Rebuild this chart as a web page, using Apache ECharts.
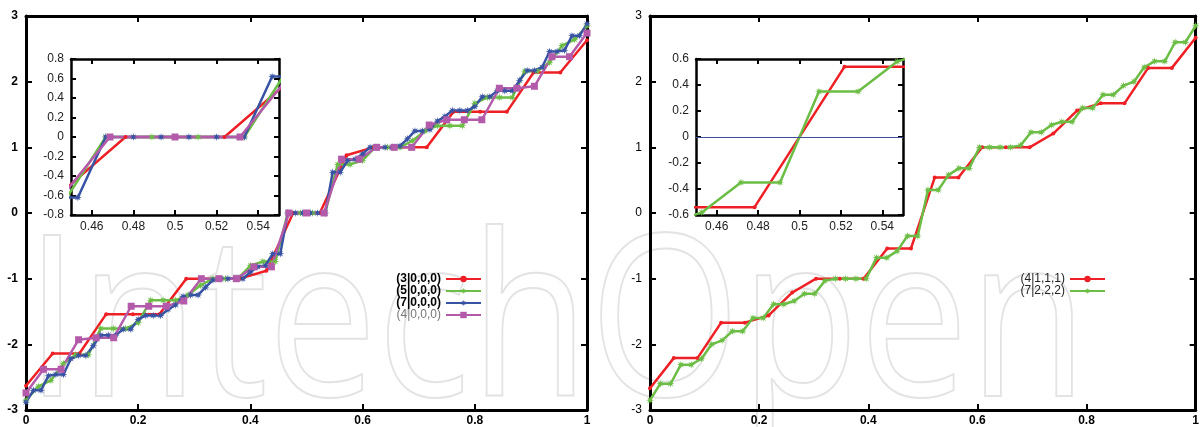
<!DOCTYPE html>
<html>
<head>
<meta charset="utf-8">
<script src="https://cdn.jsdelivr.net/npm/echarts@6/dist/echarts.min.js"></script>
<style>
html, body { margin: 0; padding: 0; background: #fff; }
#main { width: 1202px; height: 427px; }
</style>
</head>
<body>
<div id="main"></div>
<script>
// ---- data ----
// left panel
var x3 = [0, 0.0476, 0.0952, 0.1429, 0.1905, 0.2381, 0.2857, 0.3333, 0.381, 0.4286, 0.4762,
    0.5238, 0.5714, 0.619, 0.6667, 0.7143, 0.7619, 0.8095, 0.8571, 0.9048, 0.9524, 1];
var y3 = [-2.63, -2.14, -2.14, -1.54, -1.54, -1.54, -1.0, -1.0, -1.0, -0.88, 0,
    0, 0.88, 1.0, 1.0, 1.0, 1.54, 1.54, 1.54, 2.14, 2.14, 2.63];

var x5 = [0, 0.0222, 0.0444, 0.0667, 0.0889, 0.1111, 0.1333, 0.1556, 0.1778, 0.2, 0.2222, 0.2444,
    0.2667, 0.2889, 0.3111, 0.3333, 0.3556, 0.3778, 0.4, 0.4222, 0.4444, 0.4667, 0.4889, 0.5111,
    0.5333, 0.5556, 0.5778, 0.6, 0.6222, 0.6444, 0.6667, 0.6889, 0.7111, 0.7333, 0.7556, 0.7778,
    0.8, 0.8222, 0.8444, 0.8667, 0.8889, 0.9111, 0.9333, 0.9556, 0.9778, 1];
var y5 = [-2.85, -2.64, -2.55, -2.29, -2.16, -2.16, -1.76, -1.76, -1.76, -1.67, -1.33, -1.33,
    -1.33, -1.25, -1.10, -1.0, -1.0, -1.0, -0.80, -0.74, -0.74, 0, 0, 0,
    0, 0.74, 0.74, 0.80, 1.0, 1.0, 1.0, 1.10, 1.25, 1.33, 1.33, 1.33,
    1.67, 1.76, 1.76, 1.76, 2.16, 2.16, 2.29, 2.55, 2.64, 2.85];

var x7 = [0, 0.0133, 0.0267, 0.04, 0.0533, 0.0667, 0.08, 0.0933, 0.1067, 0.12, 0.1333, 0.1467,
    0.16, 0.1733, 0.1867, 0.2, 0.2133, 0.2267, 0.24, 0.2533, 0.2667, 0.28, 0.2933, 0.3067,
    0.32, 0.3333, 0.3467, 0.36, 0.3733, 0.3867, 0.4, 0.4133, 0.4267, 0.44, 0.4533, 0.4667,
    0.48, 0.4933, 0.5067, 0.52, 0.5333, 0.5467, 0.56, 0.5733, 0.5867, 0.6, 0.6133, 0.6267,
    0.64, 0.6533, 0.6667, 0.68, 0.6933, 0.7067, 0.72, 0.7333, 0.7467, 0.76, 0.7733, 0.7867,
    0.8, 0.8133, 0.8267, 0.84, 0.8533, 0.8667, 0.88, 0.8933, 0.9067, 0.92, 0.9333, 0.9467,
    0.96, 0.9733, 0.9867, 1];
var y7 = [-2.88, -2.70, -2.70, -2.48, -2.46, -2.46, -2.22, -2.17, -2.17, -2.02, -1.86, -1.86,
    -1.86, -1.77, -1.77, -1.62, -1.56, -1.56, -1.56, -1.47, -1.40, -1.27, -1.25, -1.25,
    -1.13, -1.02, -1.0, -1.0, -1.0, -1.0, -0.90, -0.82, -0.80, -0.62, -0.62, 0,
    0, 0, 0, 0, 0, 0.62, 0.62, 0.80, 0.82, 0.90, 1.0, 1.0,
    1.0, 1.0, 1.02, 1.13, 1.25, 1.25, 1.27, 1.40, 1.47, 1.56, 1.56, 1.56,
    1.62, 1.77, 1.77, 1.86, 1.86, 1.86, 2.02, 2.17, 2.17, 2.22, 2.46, 2.46,
    2.48, 2.70, 2.70, 2.88];

var x4 = [0, 0.03125, 0.0625, 0.09375, 0.125, 0.15625, 0.1875, 0.21875, 0.25, 0.28125, 0.3125,
    0.34375, 0.375, 0.40625, 0.4375, 0.46875, 0.5, 0.53125, 0.5625, 0.59375, 0.625, 0.65625,
    0.6875, 0.71875, 0.75, 0.78125, 0.8125, 0.84375, 0.875, 0.90625, 0.9375, 0.96875, 1];
var y4 = [-2.74, -2.38, -2.38, -1.93, -1.90, -1.90, -1.42, -1.42, -1.42, -1.34, -1.0,
    -1.0, -1.0, -0.82, -0.82, 0, 0, 0, 0.82, 0.82, 1.0, 1.0,
    1.0, 1.34, 1.42, 1.42, 1.42, 1.90, 1.90, 1.93, 2.38, 2.38, 2.74];

// right panel
var xR4 = [0, 0.0435, 0.087, 0.1304, 0.1739, 0.2174, 0.2609, 0.3043, 0.3478, 0.3913, 0.4348, 0.4783,
    0.5217, 0.5652, 0.6087, 0.6522, 0.6957, 0.7391, 0.7826, 0.8261, 0.8696, 0.913, 0.9565, 1];
var yR4 = [-2.67, -2.21, -2.21, -1.67, -1.67, -1.56, -1.21, -1.0, -1.0, -1.0, -0.54, -0.54,
    0.54, 0.54, 1.0, 1.0, 1.0, 1.21, 1.56, 1.67, 1.67, 2.21, 2.21, 2.67];

var xR7 = [0, 0.0189, 0.0377, 0.0566, 0.0755, 0.0943, 0.1132, 0.1321, 0.1509, 0.1698, 0.1887, 0.2075,
    0.2264, 0.2453, 0.2642, 0.283, 0.3019, 0.3208, 0.3396, 0.3585, 0.3774, 0.3962, 0.4151, 0.434,
    0.4528, 0.4717, 0.4906, 0.5094, 0.5283, 0.5472, 0.566, 0.5849, 0.6038, 0.6226, 0.6415, 0.6604,
    0.6792, 0.6981, 0.717, 0.7358, 0.7547, 0.7736, 0.7925, 0.8113, 0.8302, 0.8491, 0.8679, 0.8868,
    0.9057, 0.9245, 0.9434, 0.9623, 0.9811, 1];
var yR7 = [-2.85, -2.60, -2.60, -2.31, -2.31, -2.22, -2.00, -1.94, -1.80, -1.80, -1.60, -1.60,
    -1.39, -1.39, -1.34, -1.23, -1.23, -1.03, -1.0, -1.0, -1.0, -1.0, -0.68, -0.68,
    -0.58, -0.35, -0.35, 0.35, 0.35, 0.58, 0.68, 0.68, 1.0, 1.0, 1.0, 1.0,
    1.03, 1.23, 1.23, 1.34, 1.39, 1.39, 1.60, 1.60, 1.80, 1.80, 1.94, 2.00,
    2.22, 2.31, 2.31, 2.60, 2.60, 2.85];

// inset tick labels
var insetXTicks = [0.46, 0.48, 0.5, 0.52, 0.54];

// ---- styles ----
var FONT = '"Liberation Sans", Arial, Helvetica, sans-serif';
var red_color = '#ee2025';
var green_color = '#6cbd45';
var blue_color = '#3853a3';
var magenta_color = '#b45aab';
// asterisk-like marker (gnuplot pt 3)
var star = 'path://M10,0L3.7,1.53L7.07,7.07L1.53,3.7L0,10L-1.53,3.7L-7.07,7.07L-3.7,1.53L-10,0L-3.7,-1.53L-7.07,-7.07L-1.53,-3.7L0,-10L1.53,-3.7L7.07,-7.07L3.7,-1.53Z';

function pts(xs, ys) {
    var out = [];
    for (var i = 0; i < xs.length; i++) out.push([xs[i], ys[i]]);
    return out;
}

// ax = index of the bottom x axis / left y axis of the grid
function mkLine(name, xs, ys, color, symbol, size, ax) {
    return {
        name: name,
        type: 'line',
        xAxisIndex: ax,
        yAxisIndex: ax,
        data: pts(xs, ys),
        symbol: symbol,
        symbolSize: size,
        showSymbol: true,
        clip: true,
        animation: false,
        lineStyle: { color: color, width: 2.5 },
        itemStyle: { color: color },
        emphasis: { disabled: true }
    };
}

function axis(gridIndex, position, min, max, interval, custom, label, tickLen, lw) {
    var a = {
        type: 'value',
        gridIndex: gridIndex,
        position: position,
        min: min,
        max: max,
        axisLine: { show: true, onZero: false, lineStyle: { color: '#000', width: lw } },
        axisTick: { show: true, inside: true, length: tickLen, lineStyle: { color: '#000', width: 2 } },
        axisLabel: label ? label : { show: false },
        splitLine: { show: false }
    };
    if (custom) {
        a.axisTick.customValues = custom;
        if (label) a.axisLabel.customValues = custom;
    } else {
        a.interval = interval;
    }
    return a;
}

var boldLabel = { show: true, fontFamily: FONT, fontSize: 12, fontWeight: 'bold', color: '#000', margin: 5 };
var leftYLabel = { show: true, fontFamily: FONT, fontSize: 12, fontWeight: 'bold', color: '#000', margin: 8 };
var rightYLabel = { show: true, fontFamily: FONT, fontSize: 12, fontWeight: 'normal', color: '#000', margin: 8 };
var insetXLabel = { show: true, fontFamily: FONT, fontSize: 12, color: '#222', margin: 6 };
var insetYLabel = { show: true, fontFamily: FONT, fontSize: 12, color: '#222', margin: 7 };

var myChart = echarts.init(document.getElementById('main'));

var option = {
    backgroundColor: '#fff',
    animation: false,
    graphic: [{
        // faint outlined watermark behind the plots
        type: 'text',
        x: 25,
        y: 332,
        scaleX: 0.86,
        z: -10,
        silent: true,
        style: {
            text: 'IntechOpen',
            fontFamily: '"Open Sans"',
            fontSize: 226,
            fill: 'none',
            stroke: '#e3e3e3',
            lineWidth: 2,
            verticalAlign: 'middle',
            align: 'left'
        }
    }],
    grid: [
        { left: 26, top: 16, width: 561, height: 394 },
        { left: 71, top: 59, width: 208, height: 156, show: true, backgroundColor: '#fff', borderWidth: 0 },
        { left: 650, top: 16, width: 562, height: 394 },
        { left: 696, top: 59, width: 207, height: 156, show: true, backgroundColor: '#fff', borderWidth: 0 }
    ],
    xAxis: [
        axis(0, 'bottom', 0, 1, 0.2, null, boldLabel, 6, 3),
        axis(0, 'top', 0, 1, 0.2, null, null, 6, 3),
        axis(1, 'bottom', 0.45, 0.55, null, insetXTicks, insetXLabel, 5, 2.5),
        axis(1, 'top', 0.45, 0.55, null, insetXTicks, null, 5, 2.5),
        axis(2, 'bottom', 0, 1, 0.2, null, boldLabel, 6, 3),
        axis(2, 'top', 0, 1, 0.2, null, null, 6, 3),
        axis(3, 'bottom', 0.45, 0.55, null, insetXTicks, insetXLabel, 5, 2.5),
        axis(3, 'top', 0.45, 0.55, null, insetXTicks, null, 5, 2.5)
    ],
    yAxis: [
        axis(0, 'left', -3, 3, 1, null, leftYLabel, 6, 3),
        axis(0, 'right', -3, 3, 1, null, null, 6, 3),
        axis(1, 'left', -0.8, 0.8, 0.2, null, insetYLabel, 5, 2.5),
        axis(1, 'right', -0.8, 0.8, 0.2, null, null, 5, 2.5),
        axis(2, 'left', -3, 3, 1, null, rightYLabel, 6, 3),
        axis(2, 'right', -3, 3, 1, null, null, 6, 3),
        axis(3, 'left', -0.6, 0.6, 0.2, null, insetYLabel, 5, 2.5),
        axis(3, 'right', -0.6, 0.6, 0.2, null, null, 5, 2.5)
    ],
    legend: [{
        orient: 'vertical',
        align: 'right',
        right: 720,
        top: 273,
        padding: 0,
        itemGap: 0,
        itemWidth: 35,
        itemHeight: 8,
        selectedMode: false,
        textStyle: { fontFamily: FONT, fontSize: 12, fontWeight: 'bold', color: '#000' },
        data: [
            { name: '(3|0,0,0)' },
            { name: '(5|0,0,0)' },
            { name: '(7|0,0,0)' },
            { name: '(4|0,0,0)', textStyle: { fontWeight: 'normal', color: '#777' } }
        ]
    }, {
        orient: 'vertical',
        align: 'right',
        right: 96,
        top: 273,
        padding: 0,
        itemGap: 0,
        itemWidth: 35,
        itemHeight: 8,
        selectedMode: false,
        textStyle: { fontFamily: FONT, fontSize: 12, color: '#222' },
        data: [{ name: '(4|1,1,1)' }, { name: '(7|2,2,2)' }]
    }],
    series: []
};

// left panel (axes 0) + its zoomed inset (axes 2)
option.series.push(mkLine('(3|0,0,0)', x3, y3, red_color, 'circle', 4, 0));
option.series.push(mkLine('(5|0,0,0)', x5, y5, green_color, star, 8, 0));
option.series.push(mkLine('(7|0,0,0)', x7, y7, blue_color, star, 8, 0));
option.series.push(mkLine('(4|0,0,0)', x4, y4, magenta_color, 'rect', 7, 0));
option.series.push(mkLine('(3|0,0,0)', x3, y3, red_color, 'circle', 4, 2));
option.series.push(mkLine('(5|0,0,0)', x5, y5, green_color, star, 8, 2));
option.series.push(mkLine('(7|0,0,0)', x7, y7, blue_color, star, 8, 2));
option.series.push(mkLine('(4|0,0,0)', x4, y4, magenta_color, 'rect', 7, 2));

// right panel (axes 4) + inset (axes 6)
option.series.push(mkLine('(4|1,1,1)', xR4, yR4, red_color, 'circle', 4, 4));
option.series.push(mkLine('(7|2,2,2)', xR7, yR7, green_color, star, 8, 4));
var insetRed = mkLine('(4|1,1,1)', xR4, yR4, red_color, 'circle', 4, 6);
insetRed.markLine = {
    silent: true,
    symbol: 'none',
    label: { show: false },
    lineStyle: { color: '#3b4f9c', width: 1, type: 'solid' },
    data: [{ yAxis: 0 }]
};
option.series.push(insetRed);
option.series.push(mkLine('(7|2,2,2)', xR7, yR7, green_color, star, 8, 6));

myChart.setOption(option);
</script>
</body>
</html>
